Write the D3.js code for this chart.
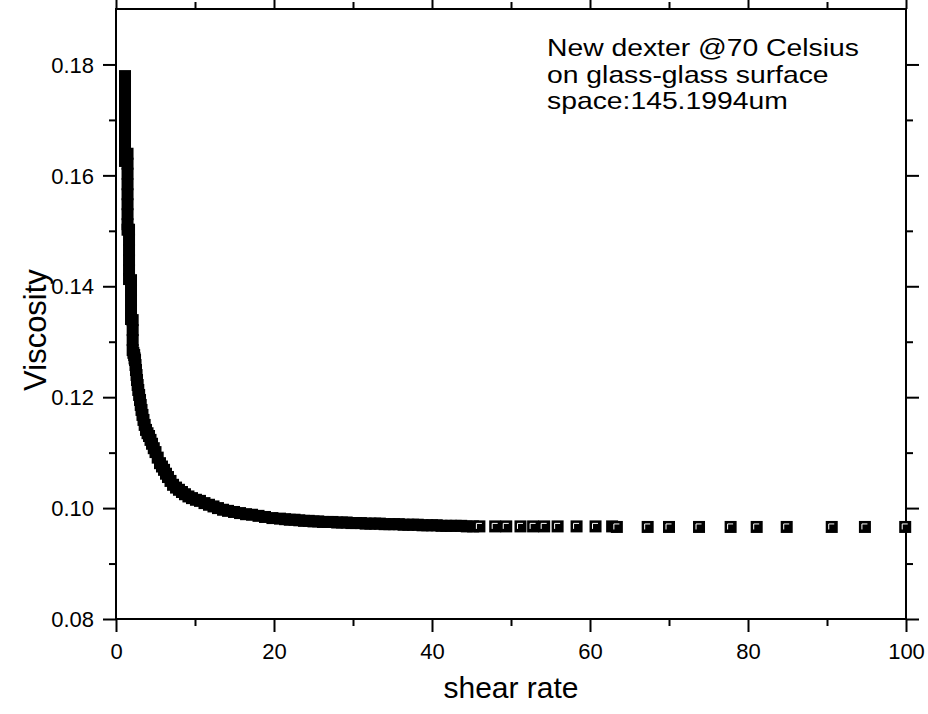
<!DOCTYPE html>
<html>
<head>
<meta charset="utf-8">
<script src="https://cdn.jsdelivr.net/npm/d3@7"></script>
<style>
  body { margin: 0; background: #fff; }
  text { font-family: "Liberation Sans", Arial, Helvetica, sans-serif; fill: #000; }
</style>
</head>
<body>
<svg id="chart" width="928" height="714"></svg>
<script>
// shear rate / viscosity, low shear rate first
var shearRate = [
    1.14, 1.14, 1.14, 1.14, 1.14, 1.14, 1.14, 1.14, 1.14, 1.14,
    1.46, 1.46, 1.46, 1.46, 1.46, 1.46, 1.46, 1.46, 1.46,
    1.65, 1.65, 1.65, 1.65, 1.65, 1.65,
    1.90, 1.90, 1.90, 1.90, 1.90,
    2.11, 2.11, 2.11, 2.11,
    2.20, 2.30, 2.35, 2.41, 2.47, 2.53, 2.60, 2.66, 2.74, 2.82,
    2.93, 3.04, 3.13, 3.23, 3.35, 3.48, 3.63, 3.80, 3.99, 4.18,
    4.37, 4.56, 4.78, 5.00, 5.28, 5.57, 5.82, 6.08, 6.33, 6.58,
    6.90, 7.22, 7.60, 7.97, 8.35, 8.73, 9.17, 9.62, 10.12, 10.63,
    11.20, 11.77, 12.34, 12.91, 13.55, 14.18, 14.94, 15.70, 16.46, 17.22,
    18.04, 18.86, 19.80, 20.76, 21.4, 22.0, 22.6, 23.2, 23.8, 24.4,
    25.0, 25.6, 26.2, 26.8, 27.4, 28.0, 28.6, 29.2, 29.8, 30.4,
    31.0, 31.6, 32.2, 32.8, 33.4, 34.0, 34.6, 35.2, 35.8, 36.4,
    37.0, 37.6, 38.2, 38.8, 39.4, 40.0, 40.6, 41.2, 41.8, 42.4,
    43.0, 43.7, 44.4, 45.2, 46.0, 48.0, 49.4, 51.2, 52.8, 54.2,
    55.9, 58.3, 60.7, 62.8, 63.4, 67.3, 70.0, 73.8, 77.8, 81.1,
    84.9, 90.6, 94.8, 99.9
];
var viscosity = [
    0.1779, 0.1761, 0.1743, 0.1725, 0.1707, 0.1689, 0.1671, 0.1653, 0.1635, 0.1626,
    0.1639, 0.1621, 0.1603, 0.1584, 0.1566, 0.1548, 0.1530, 0.1512, 0.1502,
    0.1502, 0.1484, 0.1465, 0.1447, 0.1429, 0.1413,
    0.1411, 0.1393, 0.1375, 0.1357, 0.1341,
    0.1339, 0.1321, 0.1303, 0.1285,
    0.1280, 0.1276, 0.1270, 0.1267, 0.1258, 0.1249, 0.1240, 0.1231, 0.1222, 0.1213,
    0.1204, 0.1195, 0.1186, 0.1177, 0.1168, 0.1159, 0.1150, 0.1141, 0.1135, 0.1130,
    0.1123, 0.1116, 0.1108, 0.1101, 0.1091, 0.1081, 0.1075, 0.1069, 0.1062, 0.1056,
    0.1049, 0.1042, 0.1037, 0.1033, 0.1029, 0.1025, 0.1021, 0.1018, 0.1015, 0.1013,
    0.1009, 0.1006, 0.1003, 0.1000, 0.0997, 0.0995, 0.0993, 0.0991, 0.0989, 0.0988,
    0.0986, 0.0984, 0.0982, 0.0981, 0.0980, 0.0979, 0.0979, 0.0978, 0.0977, 0.0977,
    0.0976, 0.0976, 0.0975, 0.0975, 0.0975, 0.0974, 0.0974, 0.0974, 0.0973, 0.0973,
    0.0973, 0.0972, 0.0972, 0.0972, 0.0972, 0.0971, 0.0971, 0.0971, 0.0971, 0.0970,
    0.0970, 0.0970, 0.0970, 0.0969, 0.0969, 0.0969, 0.0969, 0.0968, 0.0968, 0.0968,
    0.0968, 0.0968, 0.0967, 0.0967, 0.0967, 0.0967, 0.0967, 0.0967, 0.0967, 0.0967,
    0.0967, 0.0967, 0.0967, 0.0967, 0.0966, 0.0966, 0.0966, 0.0966, 0.0966, 0.0966,
    0.0966, 0.0966, 0.0966, 0.0966
];
var xMajor = [0, 20, 40, 60, 80, 100];
var xMinor = [10, 30, 50, 70, 90];
var yMajor = [0.08, 0.10, 0.12, 0.14, 0.16, 0.18];
var yMinor = [0.09, 0.11, 0.13, 0.15, 0.17];
var noteLines = ["New dexter @70 Celsius", "on glass-glass surface", "space:145.1994um"];

var svg = d3.select("#chart"),
    pLeft = 116, pRight = 906, pTop = 9, pBottom = 619,
    ms = 12; // marker size

var x = d3.scaleLinear().domain([0, 100]).range([pLeft, pRight]);
var y = d3.scaleLinear().domain([0.08, 0.19]).range([pBottom, pTop]);

var points = shearRate.map(function(d, i) { return {x: d, y: viscosity[i]}; });

// axes: left/bottom ticks outside, top/right ticks inside
function axis(gen, tr, vals, size, labels) {
    var g = svg.append("g")
        .attr("transform", tr)
        .call(gen.tickValues(vals).tickSize(size).tickSizeOuter(0)
            .tickFormat(labels ? labels : ""));
    g.select(".domain").remove();
    g.selectAll(".tick line").attr("stroke", "#000").attr("stroke-width", 2);
    return g;
}

var fmtY = d3.format(".2f");
var gl = axis(d3.axisLeft(y), "translate(" + pLeft + ",0)", yMajor, 13, fmtY);
gl.selectAll("text").attr("x", -22).attr("dy", "0.35em").style("font-size", "22px");
axis(d3.axisLeft(y), "translate(" + pLeft + ",0)", yMinor, 7);
axis(d3.axisLeft(y), "translate(" + pRight + ",0)", yMajor, -13);
axis(d3.axisLeft(y), "translate(" + pRight + ",0)", yMinor, -7);

var gb = axis(d3.axisBottom(x), "translate(0," + pBottom + ")", xMajor, 13, d3.format("d"));
gb.selectAll("text").attr("y", 24).attr("dy", "0.71em").style("font-size", "22px");
axis(d3.axisBottom(x), "translate(0," + pBottom + ")", xMinor, 7);
axis(d3.axisBottom(x), "translate(0," + pTop + ")", xMajor, -13);
axis(d3.axisBottom(x), "translate(0," + pTop + ")", xMinor, -7);

svg.append("rect")
    .attr("x", pLeft).attr("y", pTop)
    .attr("width", pRight - pLeft).attr("height", pBottom - pTop)
    .attr("fill", "none").attr("stroke", "#000").attr("stroke-width", 2);

// markers: black squares; white corner mark only on squares the next one doesn't cover
var mk = svg.append("g");
points.forEach(function(p, i) {
    var cx = x(p.x), cy = y(p.y);
    mk.append("rect")
        .attr("x", cx - ms / 2).attr("y", cy - ms / 2)
        .attr("width", ms).attr("height", ms)
        .attr("fill", "#000");
    var nx = points[i + 1];
    if (!nx || (Math.abs(y(nx.y) - cy) < 3 && x(nx.x) - cx > 8)) {
        mk.append("path")
            .attr("d", "M" + (cx - 3) + "," + (cy + 2.5) + "V" + (cy - 3) + "H" + (cx + 2.5))
            .attr("fill", "none").attr("stroke", "#fff").attr("stroke-width", 1);
    }
});

svg.append("text")
    .attr("x", (pLeft + pRight) / 2).attr("y", 698)
    .attr("text-anchor", "middle")
    .style("font-size", "30px")
    .text("shear rate");

svg.append("text")
    .attr("transform", "translate(46,330) rotate(-90)")
    .attr("text-anchor", "middle")
    .style("font-size", "31px")
    .text("Viscosity");

// the note is set a little wide, as in the original
svg.append("g").selectAll("text")
    .data(noteLines).enter().append("text")
    .attr("transform", function(d, i) { return "translate(547," + (56 + i * 26.5) + ") scale(1.18,1)"; })
    .style("font-size", "24px")
    .text(function(d) { return d; });
</script>
</body>
</html>
